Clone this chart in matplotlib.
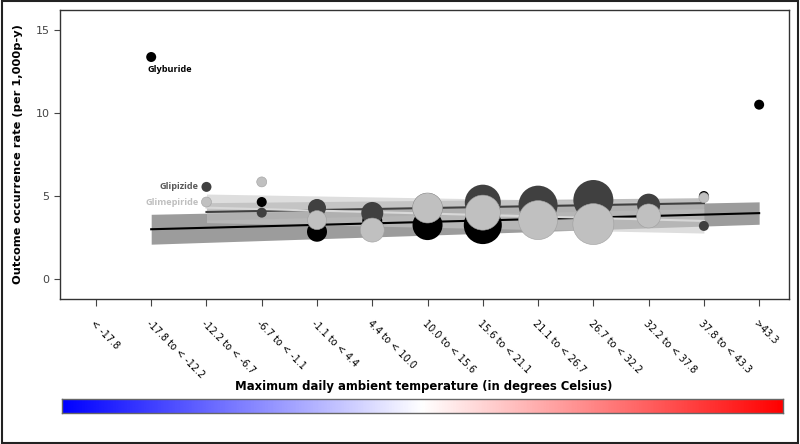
import matplotlib
matplotlib.use("Agg")
import matplotlib.pyplot as plt
import numpy as np
from matplotlib.patches import Rectangle

# ---- data ----
categories = ["< -17.8", "-17.8 to < -12.2", "-12.2 to < -6.7", "-6.7 to < -1.1",
              "-1.1 to < 4.4", "4.4 to < 10.0", "10.0 to < 15.6", "15.6 to < 21.1",
              "21.1 to < 26.7", "26.7 to < 32.2", "32.2 to < 37.8", "37.8 to < 43.3",
              ">43.3"]

glyb_idx = [1, 3, 4, 5, 6, 7, 8, 9, 10, 11, 12]
glyb_rate = [13.37, 4.64, 2.85, 3.5, 3.25, 3.25, 3.6, 3.4, 3.9, 5.0, 10.5]
glyb_size = [5, 5, 10, 10, 15, 19, 18, 18, 11, 5, 5]

glip_idx = [2, 3, 4, 5, 6, 7, 8, 9, 10, 11]
glip_rate = [5.55, 4.0, 4.28, 3.98, 4.28, 4.6, 4.45, 4.76, 4.45, 3.2]
glip_size = [5, 5, 9, 11, 15, 18, 19.5, 20, 11.5, 5]

glim_idx = [2, 3, 4, 5, 6, 7, 8, 9, 10, 11]
glim_rate = [4.64, 5.85, 3.55, 2.95, 4.28, 4.0, 3.55, 3.31, 3.8, 4.9]
glim_size = [5, 5, 9.5, 12, 15, 17.5, 19.5, 20.5, 12, 5]

# fitted trend lines (start/end) with confidence bands
glyb_fit_x = [1, 12]
glyb_fit = [3.0, 3.97]
glyb_lo = [2.1, 3.3]
glyb_hi = [3.9, 4.65]

glip_fit_x = [2, 11]
glip_fit = [4.04, 4.57]
glip_lo = [3.55, 4.25]
glip_hi = [4.6, 4.9]

glim_fit_x = [2, 11]
glim_fit = [4.3, 3.5]
glim_lo = [3.4, 2.77]
glim_hi = [5.12, 4.6]

DPI = 100
fig = plt.figure(figsize=(8, 4.44), dpi=DPI)
ax = fig.add_axes([60/800, 145/444, 729/800, 289/444])

def px2s(r):
    d_pt = 2 * r * 72 / DPI
    return d_pt ** 2

# bands
ax.fill_between(glyb_fit_x, glyb_lo, glyb_hi, color="#5a5a5a", alpha=0.6, lw=0, zorder=1)
ax.fill_between(glip_fit_x, glip_lo, glip_hi, color="#808080", alpha=0.5, lw=0, zorder=1)
ax.fill_between(glim_fit_x, glim_lo, glim_hi, color="#c8c8c8", alpha=0.6, lw=0, zorder=1)
# lines
ax.plot(glyb_fit_x, glyb_fit, color="black", lw=1.5, zorder=2)
ax.plot(glip_fit_x, glip_fit, color="#404040", lw=1.5, zorder=2)
ax.plot(glim_fit_x, glim_fit, color="#d8d8d8", lw=1.5, zorder=2)

# bubbles
ax.scatter(glyb_idx, glyb_rate, s=[px2s(r) for r in glyb_size], color="black", zorder=3, linewidths=0)
ax.scatter(glip_idx, glip_rate, s=[px2s(r) for r in glip_size], color="#404040", zorder=4, linewidths=0)
ax.scatter(glim_idx, glim_rate, s=[px2s(r) for r in glim_size], color="#c0c0c0", zorder=5,
           edgecolors="#a0a0a0", linewidths=0.4)

# labels
ax.text(glyb_idx[0] - 0.06, glyb_rate[0] - 0.75, "Glyburide", fontfamily="Open Sans",
        fontweight="bold", fontsize=6.6, color="black", ha="left", va="center", zorder=6)
ax.text(glip_idx[0] - 0.14, glip_rate[0], "Glipizide", fontfamily="Open Sans",
        fontweight="bold", fontsize=6.6, color="#595959", ha="right", va="center", zorder=6)
ax.text(glim_idx[0] - 0.14, glim_rate[0], "Glimepiride", fontfamily="Open Sans",
        fontweight="bold", fontsize=6.6, color="#bfbfbf", ha="right", va="center", zorder=6)

ax.set_xlim(-0.65, 12.54)
ax.set_ylim(-1.2, 16.2)
ax.set_yticks([0, 5, 10, 15])
ax.set_xticks(range(len(categories)))
ax.set_xticklabels(categories, rotation=-45, ha="left", va="top", rotation_mode="anchor",
                   fontsize=7)
ax.tick_params(axis="y", labelsize=8, labelcolor="#444444", color="#444444", length=4)
ax.tick_params(axis="x", color="#444444", length=5, pad=9)
for sp in ax.spines.values():
    sp.set_color("#333333")
    sp.set_linewidth(1.0)
ax.set_ylabel("Outcome occurrence rate (per 1,000p-y)", fontsize=8.2, fontweight="bold")
ax.yaxis.set_label_coords(-0.051, 0.5)

# colorbar strip
cax = fig.add_axes([62/800, 31/444, 721/800, 14/444])
grad = np.linspace(0, 1, 512).reshape(1, -1)
cax.imshow(grad, aspect="auto", cmap="bwr", extent=[0, 1, 0, 1])
cax.set_xticks([])
cax.set_yticks([])
for sp in cax.spines.values():
    sp.set_color("#666666")
    sp.set_linewidth(1.0)
fig.text(424/800, 1 - 386/444, "Maximum daily ambient temperature (in degrees Celsius)",
         ha="center", va="center", fontsize=8.4, fontweight="bold")

# outer border
fig.patches.append(Rectangle((0.002, 0.003), 0.996, 0.994, transform=fig.transFigure,
                             fill=False, edgecolor="#222222", lw=1.5))

fig.savefig("out.png", dpi=DPI)
